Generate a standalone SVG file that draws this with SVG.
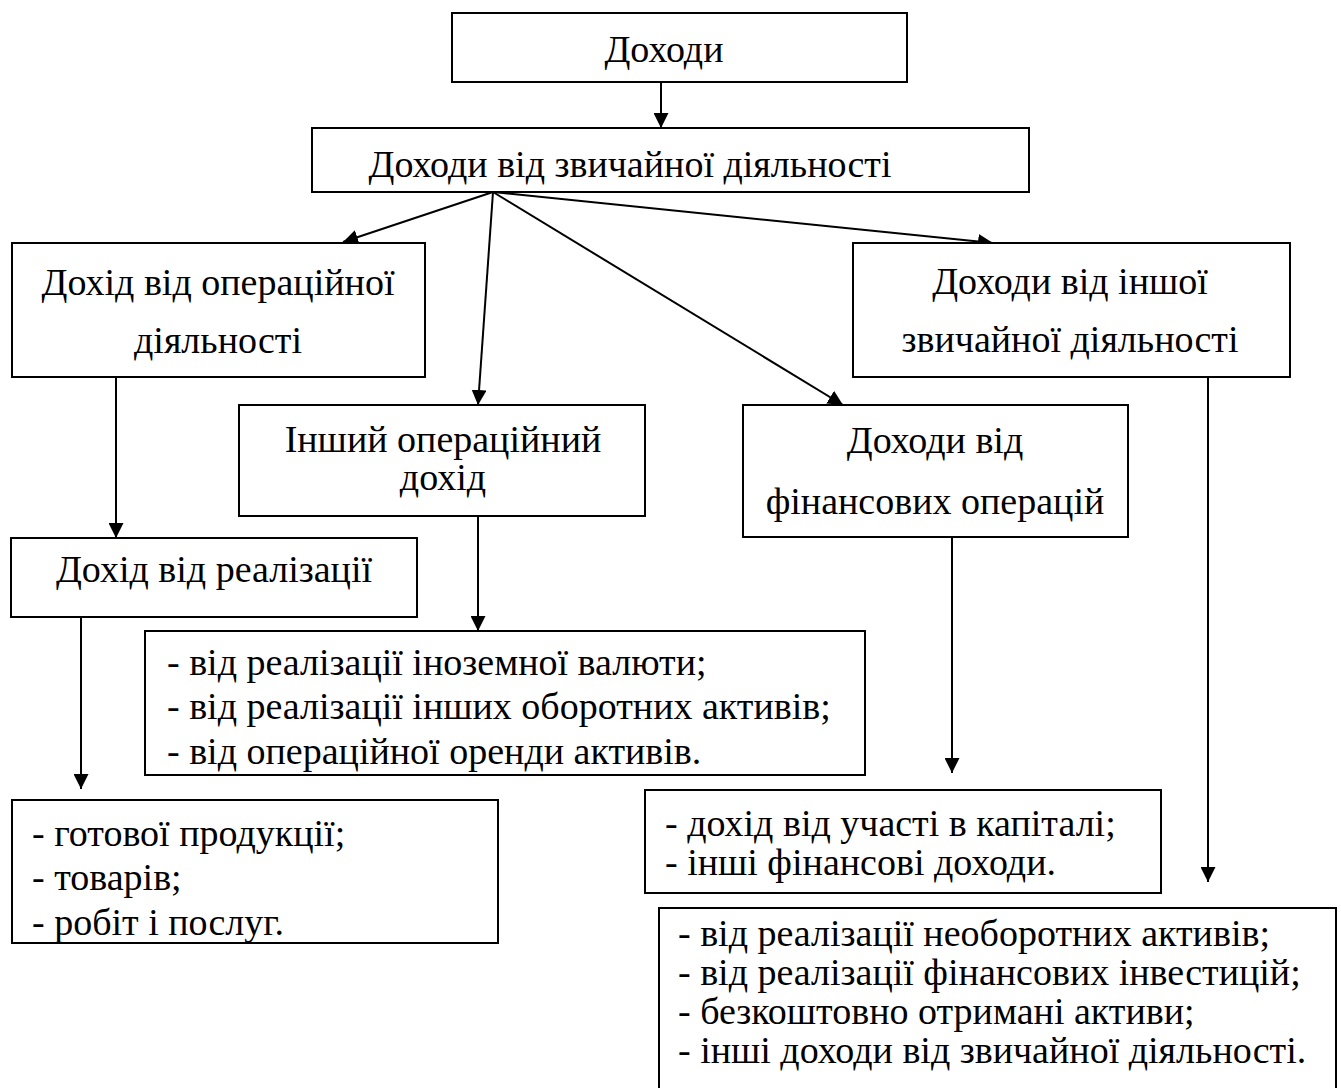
<svg xmlns="http://www.w3.org/2000/svg" width="1341" height="1088" viewBox="0 0 1341 1088">
<style>
.box{fill:#fff;stroke:#000;stroke-width:2}
text{font-family:"Liberation Serif","Times New Roman",serif;font-size:38px;fill:#000}
.c{text-anchor:middle}
.cn{stroke:#000;stroke-width:2;fill:none;marker-end:url(#ah)}
</style>
<defs>
<marker id="ah" markerUnits="userSpaceOnUse" markerWidth="15" markerHeight="15" refX="15" refY="7.5" orient="auto">
<path d="M0,0 L15,7.5 L0,15 z" fill="#000"/>
</marker>
</defs>
<rect width="1341" height="1088" fill="#fff"/>
<g id="connectors">
<line class="cn" x1="661" y1="82" x2="661" y2="128"/>
<line class="cn" x1="493" y1="192" x2="343" y2="242"/>
<line class="cn" x1="493" y1="192" x2="478" y2="405"/>
<line class="cn" x1="493" y1="192" x2="843" y2="405"/>
<line class="cn" x1="493" y1="192" x2="993" y2="243"/>
<line class="cn" x1="116" y1="377" x2="116" y2="538"/>
<line class="cn" x1="478" y1="516" x2="478" y2="631"/>
<line class="cn" x1="81" y1="617" x2="81" y2="789"/>
<line class="cn" x1="952" y1="537" x2="952" y2="773"/>
<line class="cn" x1="1208" y1="377" x2="1208" y2="882"/>
</g>
<g id="n1"><rect class="box" x="452" y="13" width="455" height="69"/><text class="c" x="664" y="62">Доходи</text></g>
<g id="n2"><rect class="box" x="312" y="128" width="717" height="64"/><text class="c" x="630" y="177">Доходи від звичайної діяльності</text></g>
<g id="n3"><rect class="box" x="12" y="243" width="413" height="134"/><text class="c" x="218" y="295">Дохід від операційної</text><text class="c" x="218" y="353">діяльності</text></g>
<g id="n4"><rect class="box" x="853" y="243" width="437" height="134"/><text class="c" x="1070" y="294">Доходи від іншої</text><text class="c" x="1070" y="352">звичайної діяльності</text></g>
<g id="n5"><rect class="box" x="239" y="405" width="406" height="111"/><text class="c" x="443" y="452">Інший операційний</text><text class="c" x="443" y="490">дохід</text></g>
<g id="n6"><rect class="box" x="743" y="405" width="385" height="132"/><text class="c" x="935" y="453">Доходи від</text><text class="c" x="935" y="514">фінансових операцій</text></g>
<g id="n7"><rect class="box" x="11" y="538" width="406" height="79"/><text class="c" x="214" y="582">Дохід від реалізації</text></g>
<g id="n8"><rect class="box" x="145" y="631" width="720" height="144"/><text x="167" y="675">- від реалізації іноземної валюти;</text><text x="167" y="719">- від реалізації інших оборотних активів;</text><text x="167" y="764">- від операційної оренди активів.</text></g>
<g id="n9"><rect class="box" x="12" y="800" width="486" height="143"/><text x="32" y="846">- готової продукції;</text><text x="32" y="890">- товарів;</text><text x="32" y="935">- робіт і послуг.</text></g>
<g id="n10"><rect class="box" x="645" y="790" width="516" height="103"/><text x="665" y="836">- дохід від участі в капіталі;</text><text x="665" y="875">- інші фінансові доходи.</text></g>
<g id="n11"><rect class="box" x="659" y="908" width="677" height="190"/><text x="678" y="946">- від реалізації необоротних активів;</text><text x="678" y="985">- від реалізації фінансових інвестицій;</text><text x="678" y="1024">- безкоштовно отримані активи;</text><text x="678" y="1063">- інші доходи від звичайної діяльності.</text></g>
</svg>
